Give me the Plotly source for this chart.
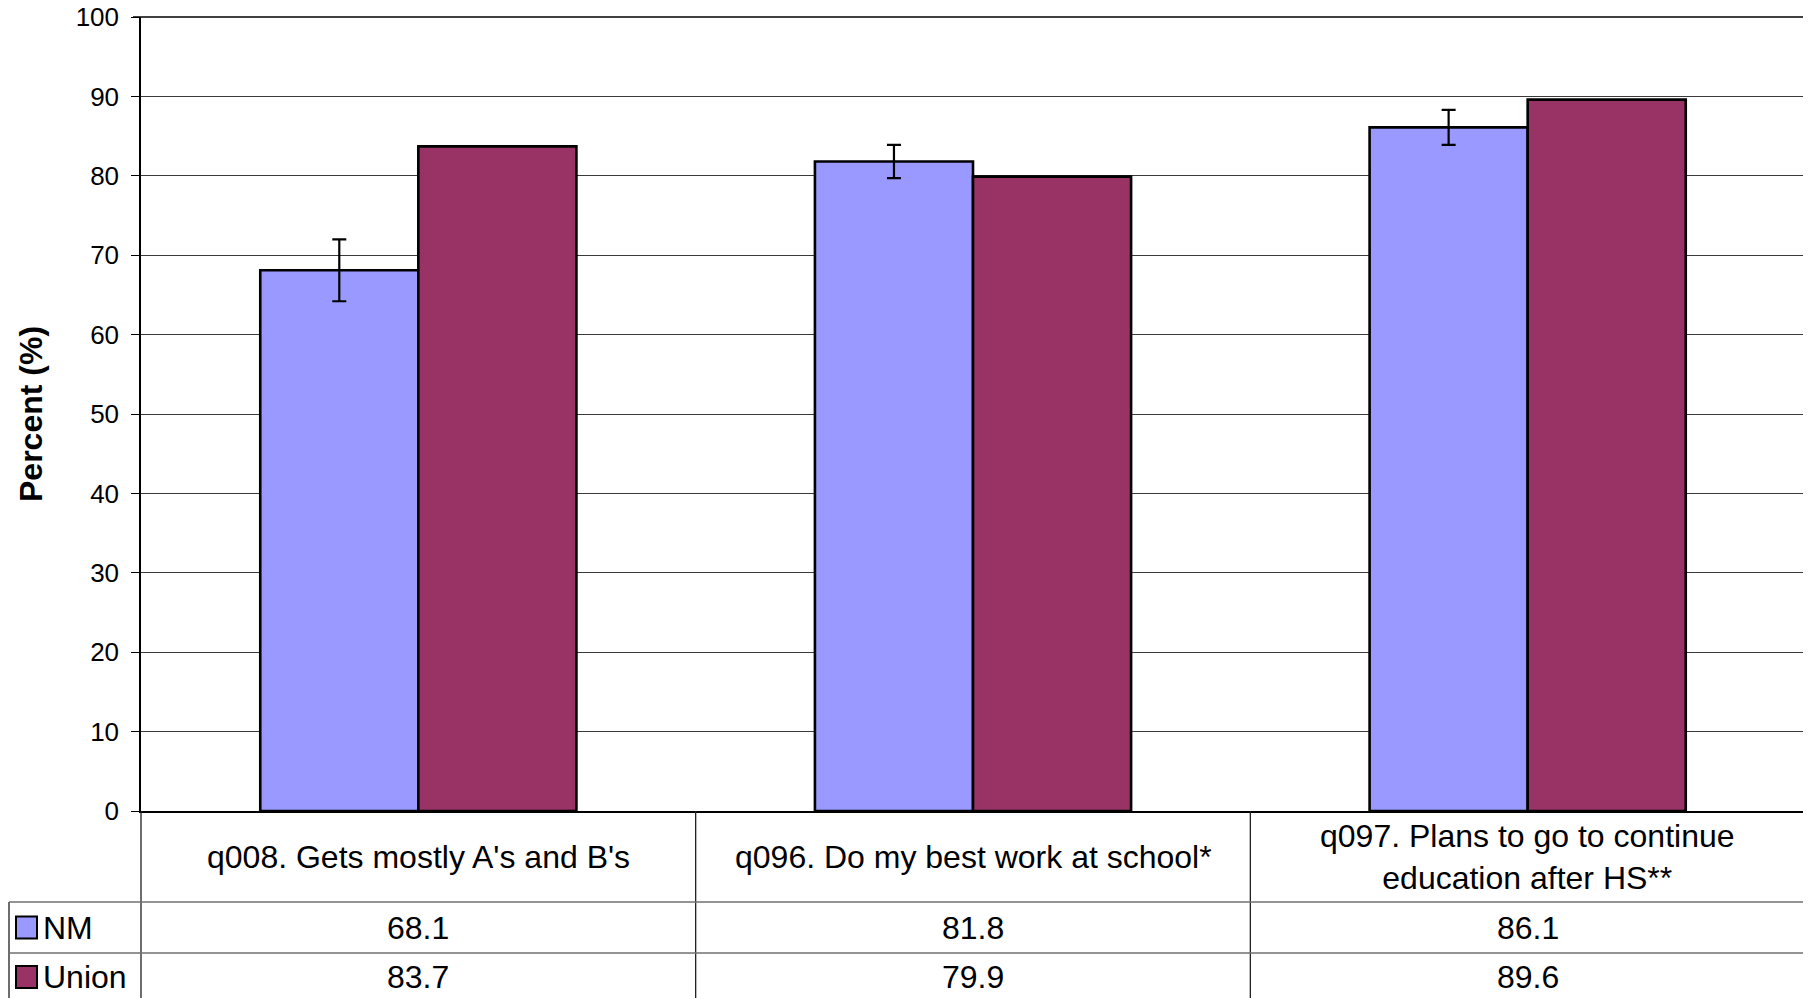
import plotly.graph_objects as go

# ---- data ----
categories = ["q008. Gets mostly A's and B's",
              "q096. Do my best work at school*",
              "q097. Plans to go to continue<br>education after HS**"]
series_names = ["NM", "Union"]
nm_values = [68.1, 81.8, 86.1]
union_values = [83.7, 79.9, 89.6]
nm_errors = [3.9, 2.1, 2.2]
y_ticks = [0, 10, 20, 30, 40, 50, 60, 70, 80, 90, 100]

# ---- layout geometry (pixels; page body adds an 8px margin) ----
OFF = 8
W, H = 1811, 998
L, R, T, B = 141 - OFF, 1805 - OFF, 17 - OFF, 811 - OFF
ROW1, ROW2 = 902 - OFF, 953 - OFF
BOTTOM = 1005 - OFF
LEG_X = 9 - OFF
FONT = "Liberation Sans, Arial, sans-serif"
NM_COLOR = "#9999FF"
UNION_COLOR = "#993366"
TXT = 32


def px(x):
    return (x - L) / (R - L)


def py(y):
    return (B - y) / (B - T)


fig = go.Figure()
fig.add_trace(go.Bar(
    x=categories, y=nm_values, name=series_names[0],
    marker=dict(color=NM_COLOR, line=dict(color="black", width=2.6)),
    error_y=dict(type="data", array=nm_errors, visible=True,
                 color="black", thickness=2.2, width=7),
))
fig.add_trace(go.Bar(
    x=categories, y=union_values, name=series_names[1],
    marker=dict(color=UNION_COLOR, line=dict(color="black", width=2.6)),
))

shapes = []
line_dark = dict(color="#202020", width=1.3)
line_gray = dict(color="#707070", width=1.3)
# plot top border
shapes.append(dict(type="line", xref="paper", yref="paper",
                   x0=px(L - 8), x1=px(R), y0=py(T), y1=py(T),
                   line=dict(color="black", width=1.5)))
# plot right border
shapes.append(dict(type="line", xref="paper", yref="paper",
                   x0=px(R), x1=px(R), y0=py(T), y1=py(BOTTOM), line=line_gray))
# table vertical lines
for xv in [L, L + (R - L) / 3, L + 2 * (R - L) / 3]:
    shapes.append(dict(type="line", xref="paper", yref="paper",
                       x0=px(xv), x1=px(xv), y0=py(B), y1=py(BOTTOM), line=line_dark))
# legend column left edge
shapes.append(dict(type="line", xref="paper", yref="paper",
                   x0=px(LEG_X), x1=px(LEG_X), y0=py(ROW1), y1=py(BOTTOM), line=line_dark))
# row lines
for yv in [ROW1, ROW2]:
    shapes.append(dict(type="line", xref="paper", yref="paper",
                       x0=px(LEG_X), x1=px(R), y0=py(yv), y1=py(yv), line=line_gray))
# legend keys
row_centers = [(ROW1 + ROW2) / 2, (ROW2 + BOTTOM) / 2 - 2]
for yc, col in zip(row_centers, [NM_COLOR, UNION_COLOR]):
    shapes.append(dict(type="rect", xref="paper", yref="paper",
                       x0=px(16 - OFF), x1=px(37 - OFF), y0=py(yc - 11), y1=py(yc + 11),
                       fillcolor=col, line=dict(color="black", width=2)))

annotations = []
# category header row
for c in categories:
    annotations.append(dict(x=c, xref="x", y=py((B + ROW1) / 2), yref="paper",
                            text=c, showarrow=False, xanchor="center", yanchor="middle",
                            font=dict(family=FONT, size=TXT, color="black")))
# value rows
for vals, yc in zip([nm_values, union_values], row_centers):
    for c, v in zip(categories, vals):
        annotations.append(dict(x=c, xref="x", y=py(yc), yref="paper",
                                text=f"{v:.1f}", showarrow=False, xanchor="center",
                                yanchor="middle",
                                font=dict(family=FONT, size=TXT, color="black")))
# legend labels
for name, yc in zip(series_names, row_centers):
    annotations.append(dict(x=px(41 - OFF), xref="paper", y=py(yc), yref="paper",
                            text=name, showarrow=False, xanchor="left", yanchor="middle",
                            font=dict(family=FONT, size=TXT, color="black")))
# y axis title
annotations.append(dict(x=px(31 - OFF), xref="paper", y=py((T + B) / 2), yref="paper",
                        text="<b>Percent (%)</b>", showarrow=False, textangle=-90,
                        xanchor="center", yanchor="middle",
                        font=dict(family=FONT, size=32, color="black")))

fig.update_layout(
    width=W, height=H,
    margin=dict(l=L, r=W - R, t=T, b=H - B, pad=0, autoexpand=False),
    paper_bgcolor="white", plot_bgcolor="white",
    barmode="group", bargap=0.43, bargroupgap=0,
    showlegend=False,
    shapes=shapes, annotations=annotations,
    font=dict(family=FONT, color="black"),
)
fig.update_xaxes(showticklabels=False, ticks="", showgrid=False, automargin=False,
                 showline=True, linecolor="black", linewidth=1.5, zeroline=False)
fig.update_yaxes(range=[0, 100], tickvals=y_ticks, ticks="outside", ticklen=8,
                 tickcolor="black", tickwidth=1.2, showline=True, linecolor="black",
                 linewidth=1.5, showgrid=True, gridcolor="#3a3a3a", gridwidth=1,
                 zeroline=False, ticklabelstandoff=7, ticklabeloverflow="allow",
                 automargin=False,
                 tickfont=dict(family=FONT, size=26, color="black"))

fig.write_html("out.html")
